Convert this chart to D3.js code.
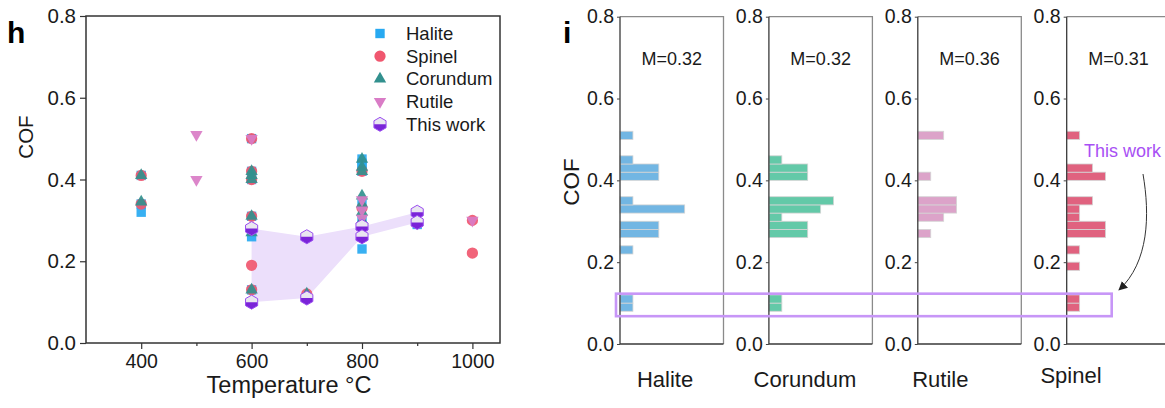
<!DOCTYPE html>
<html><head><meta charset="utf-8">
<script src="https://cdn.jsdelivr.net/npm/d3@7"></script>
<style>
body{margin:0;background:#fff;}
svg{display:block;font-family:"Liberation Sans",Arial,sans-serif;}
</style></head><body>
<svg id="chart" width="1165" height="408"></svg>
<script>
// ---- Panel h: COF versus temperature ----
const tempTicks = [400, 600, 800, 1000];
const tempMinorTicks = [500, 700, 900];
const cofTicks = [0.0, 0.2, 0.4, 0.6, 0.8];

const halite = [[400,0.41],[400,0.34],[400,0.32],[600,0.50],[600,0.42],[600,0.40],[600,0.31],[600,0.26],[600,0.13],
  [800,0.45],[800,0.44],[800,0.43],[800,0.42],[800,0.34],[800,0.30],[800,0.23],[900,0.29]];
const spinel = [[400,0.41],[400,0.34],[600,0.50],[600,0.42],[600,0.40],[600,0.31],[600,0.19],[600,0.13],[700,0.12],
  [800,0.42],[800,0.33],[1000,0.30],[1000,0.22]];
const corundum = [[400,0.41],[400,0.345],[600,0.42],[600,0.41],[600,0.40],[600,0.31],[600,0.27],[600,0.13],[700,0.12],
  [800,0.45],[800,0.43],[800,0.42],[800,0.36],[800,0.34],[800,0.32],[800,0.30]];
const rutile = [[500,0.51],[500,0.40],[600,0.50],[700,0.26],[800,0.35],[800,0.325],[800,0.305],[1000,0.30]];
const thisWork = [[600,0.28],[600,0.10],[700,0.26],[700,0.11],[800,0.285],[800,0.26],[900,0.32],[900,0.295]];

const seriesNames = ["Halite", "Spinel", "Corundum", "Rutile", "This work"];

// ---- Panel i: COF histograms (bin lower edges and counts) ----
const binWidth = 0.02;
const histCategories = ["Halite", "Corundum", "Rutile", "Spinel"];
const histMeans = ["M=0.32", "M=0.32", "M=0.36", "M=0.31"];
const haliteBins = [0.08,0.10,0.22,0.26,0.28,0.32,0.34,0.40,0.42,0.44,0.50];
const haliteCounts = [1,1,1,3,3,5,1,3,3,1,1];
const corundumBins = [0.08,0.10,0.26,0.28,0.30,0.32,0.34,0.40,0.42,0.44];
const corundumCounts = [1,1,3,3,1,4,5,3,3,1];
const rutileBins = [0.26,0.30,0.32,0.34,0.40,0.50];
const rutileCounts = [1,2,3,3,1,2];
const spinelBins = [0.08,0.10,0.18,0.22,0.26,0.28,0.30,0.32,0.34,0.40,0.42,0.50];
const spinelCounts = [1,1,1,1,3,3,1,1,2,3,2,1];
const highlightRange = [0.068, 0.123];

const svg = d3.select("#chart");
const ink = "#1a1a1a";

// ================= Panel h =================
const L = {left: 86, right: 500, top: 16, bottom: 343};
const x = d3.scaleLinear().domain([300, 1050]).range([L.left, L.right]);
const y = d3.scaleLinear().domain([0, 0.8]).range([L.bottom, L.top]);

const colors = {Halite: "#27a9f1", Spinel: "#f0576f", Corundum: "#32908e", Rutile: "#d97cc6"};
const workPurple = "#7a24d8", workLight = "#e9e6f0", workEdge = "#9a4df0";

const gH = svg.append("g");

// shaded envelope of this work
const byT = d3.rollups(thisWork, v => [d3.min(v, d => d[1]), d3.max(v, d => d[1])], d => d[0]).sort((a, b) => a[0] - b[0]);
gH.append("path")
  .attr("d", d3.area().x(d => x(d[0])).y0(d => y(d[1][0])).y1(d => y(d[1][1]))(byT))
  .attr("fill", "#ecdffb");

const sym = {
  Halite: d3.symbol(d3.symbolSquare, 88)(),
  Spinel: d3.symbol(d3.symbolCircle, 100)(),
  Corundum: d3.symbol(d3.symbolTriangle, 66)(),
  Rutile: d3.symbol(d3.symbolTriangle, 66)()
};
const seriesData = {Halite: halite, Spinel: spinel, Corundum: corundum, Rutile: rutile};

function drawHex(g, cx, cy, r) {
  const c = r * Math.cos(Math.PI / 6);
  const full = [[0,-r],[c,-r/2],[c,r/2],[0,r],[-c,r/2],[-c,-r/2]];
  const low = [[-c,0],[c,0],[c,r/2],[0,r],[-c,r/2]];
  const h = g.append("g").attr("transform", `translate(${cx},${cy})`);
  h.append("polygon").attr("points", full.join(" ")).attr("fill", workLight);
  h.append("polygon").attr("points", low.join(" ")).attr("fill", workPurple);
  h.append("polygon").attr("points", full.join(" ")).attr("fill", "none").attr("stroke", workEdge).attr("stroke-width", 1);
}

["Halite", "Spinel", "Corundum", "Rutile"].forEach(name => {
  gH.append("g").selectAll("path").data(seriesData[name]).join("path")
    .attr("d", sym[name])
    .attr("transform", d => `translate(${x(d[0])},${y(d[1])})` + (name === "Rutile" ? " rotate(180)" : ""))
    .attr("fill", colors[name]).attr("fill-opacity", 0.92);
});
const gW = gH.append("g");
thisWork.forEach(d => drawHex(gW, x(d[0]), y(d[1]), 7));

// frame
gH.append("rect").attr("x", L.left).attr("y", L.top).attr("width", L.right - L.left).attr("height", L.bottom - L.top)
  .attr("fill", "none").attr("stroke", "#333").attr("stroke-width", 1.5);

// axes
gH.append("g").attr("class", "xax").attr("transform", `translate(0,${L.bottom})`)
  .call(d3.axisBottom(x).tickValues(tempTicks).tickFormat(d3.format("d")).tickSize(6).tickPadding(5));
gH.append("g").attr("transform", `translate(0,${L.bottom})`)
  .call(d3.axisBottom(x).tickValues(tempMinorTicks).tickSize(3).tickFormat(""));
gH.append("g").attr("class", "yax").attr("transform", `translate(${L.left},0)`)
  .call(d3.axisLeft(y).tickValues(cofTicks).tickFormat(d3.format(".1f")).tickSize(6).tickPadding(4));
gH.selectAll(".domain").remove();
gH.selectAll(".tick line").attr("stroke", "#333").attr("stroke-width", 1.2);
gH.selectAll(".tick text").attr("fill", ink).attr("font-family", "Liberation Sans, Arial, sans-serif");
gH.selectAll(".xax .tick text").attr("font-size", 19.5);
gH.selectAll(".yax .tick text").attr("font-size", 20.5);

gH.append("text").attr("x", 289).attr("y", 393).attr("text-anchor", "middle")
  .attr("font-size", 23.5).attr("fill", ink).text("Temperature °C");
gH.append("text").attr("transform", "translate(33,137) rotate(-90)").attr("text-anchor", "middle")
  .attr("font-size", 20.5).attr("fill", ink).text("COF");
gH.append("text").attr("x", 7).attr("y", 43).attr("font-size", 30).attr("font-weight", "bold").attr("fill", "#000").text("h");

// legend
const leg = gH.append("g");
seriesNames.forEach((name, i) => {
  const ly = 33.5 + i * 22.7;
  if (name === "This work") {
    drawHex(leg, 380, ly, 7);
  } else {
    leg.append("path").attr("d", sym[name])
      .attr("transform", `translate(380,${ly})` + (name === "Rutile" ? " rotate(180)" : ""))
      .attr("fill", colors[name]);
  }
  leg.append("text").attr("x", 406).attr("y", ly + 6.5).attr("font-size", 18.5).attr("fill", ink).text(name);
});

// ================= Panel i =================
const P = {firstLeft: 620, step: 148.9, width: 103.5, top: 16.7, bottom: 344};
const yi = d3.scaleLinear().domain([0, 0.8]).range([P.bottom, P.top]);
const xi = d3.scaleLinear().domain([0, 8]).range([0, P.width]);
const histBins = [haliteBins, corundumBins, rutileBins, spinelBins];
const histCounts = [haliteCounts, corundumCounts, rutileCounts, spinelCounts];
const histColors = ["#72b6e3", "#63c9a8", "#dca3c9", "#e0627f"];
const labelShift = [45, 36, 22.5, 4.3];

const gI = svg.append("g");
histCategories.forEach((name, i) => {
  const left = P.firstLeft + i * P.step;
  const g = gI.append("g").attr("transform", `translate(${left},0)`);
  const bins = histBins[i].map((b, k) => ({lo: b, n: histCounts[i][k]}));
  g.selectAll("rect").data(bins).join("rect")
    .attr("x", 0).attr("y", d => yi(d.lo + binWidth)).attr("width", d => xi(d.n))
    .attr("height", d => yi(d.lo) - yi(d.lo + binWidth))
    .attr("fill", histColors[i]).attr("stroke", "#d4d4d4").attr("stroke-width", 0.8);
  // frame: dark axes, lighter top/right edge
  g.append("path").attr("d", `M0,${P.top}H${P.width}V${P.bottom}`).attr("fill", "none")
    .attr("stroke", "#8a8a8a").attr("stroke-width", 1.3);
  g.append("path").attr("d", `M0,${P.top}V${P.bottom}H${P.width}`).attr("fill", "none")
    .attr("stroke", "#3a3a3a").attr("stroke-width", 1.3);
  const ax = g.append("g").call(d3.axisLeft(yi).tickValues(cofTicks).tickFormat(d3.format(".1f")).tickSize(3).tickPadding(3));
  ax.select(".domain").remove();
  ax.selectAll(".tick line").attr("stroke", "#444");
  ax.selectAll(".tick text").attr("fill", ink).attr("font-size", 19.5).attr("font-family", "Liberation Sans, Arial, sans-serif");
  g.append("text").attr("x", P.width / 2).attr("y", 65).attr("text-anchor", "middle")
    .attr("font-size", 18).attr("fill", ink).text(histMeans[i]);
  g.append("text").attr("x", labelShift[i]).attr("y", i === 3 ? 383 : 387).attr("text-anchor", "middle")
    .attr("font-size", 22).attr("fill", ink).text(name);
});

// highlight band for this work's range
gI.append("rect").attr("x", 616).attr("y", yi(highlightRange[1]))
  .attr("width", 1111.7 - 616).attr("height", yi(highlightRange[0]) - yi(highlightRange[1]))
  .attr("fill", "none").attr("stroke", "#c796f7").attr("stroke-width", 2.6);

gI.append("text").attr("transform", "translate(579,182) rotate(-90)").attr("text-anchor", "middle")
  .attr("font-size", 22.5).attr("fill", ink).text("COF");
gI.append("text").attr("x", 563).attr("y", 43).attr("font-size", 30).attr("font-weight", "bold").attr("fill", "#000").text("i");

gI.append("text").attr("x", 1084).attr("y", 157).attr("font-size", 18).attr("fill", "#a84ff4").text("This work");
const defs = svg.append("defs");
defs.append("marker").attr("id", "arrowHead").attr("viewBox", "0 0 10 10").attr("refX", 9).attr("refY", 5)
  .attr("markerWidth", 9).attr("markerHeight", 9).attr("orient", "auto-start-reverse").attr("markerUnits", "userSpaceOnUse")
  .append("path").attr("d", "M0,0L10,5L0,10z").attr("fill", "#222");
gI.append("path").attr("d", "M1143,174 C1150,215 1149,262 1119,290")
  .attr("fill", "none").attr("stroke", "#333").attr("stroke-width", 1).attr("marker-end", "url(#arrowHead)");
</script>
</body></html>
